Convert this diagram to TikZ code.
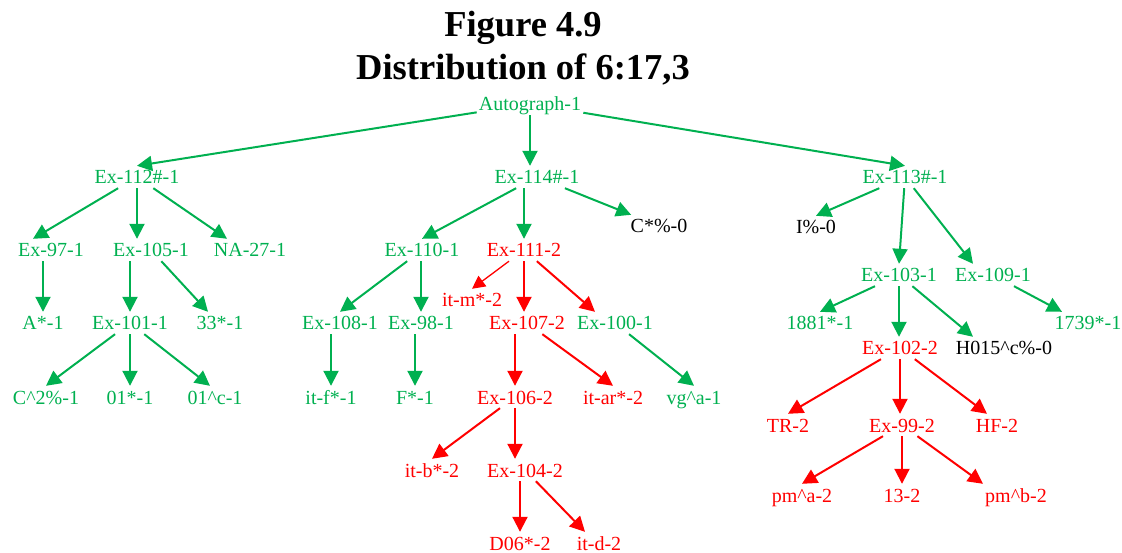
\documentclass[tikz,border=0pt]{standalone}
\usepackage{fontspec}
\setmainfont{Liberation Serif}
\usepackage{xcolor}
\usetikzlibrary{arrows.meta}
\definecolor{exgreen}{HTML}{00B050}
\definecolor{exred}{HTML}{FF0000}

\begin{document}
\begin{tikzpicture}[x=1pt, y=-1pt,
  every node/.style={font=\fontsize{20}{24}\selectfont, inner sep=2pt, text height=16pt, text depth=2pt},
  gn/.style={text=exgreen}, rn/.style={text=exred}, kn/.style={text=black},
  ga/.style={draw=exgreen, line width=2pt, -{Triangle[length=15pt,width=15pt]}},
  ra/.style={draw=exred, line width=2pt, -{Triangle[length=15pt,width=15pt]}},
  thinra/.style={draw=exred, line width=1.3pt, -{Triangle[length=13pt,width=13pt]}},
  titletext/.style={font=\fontsize{36.5}{44}\selectfont\bfseries, anchor=base, text height=, text depth=}]
  \useasboundingbox (0,0) rectangle (1122,553);
  % Title
  \node[titletext] (title1) at (523,37) {Figure 4.9};
  \node[titletext] (title2) at (523,80) {Distribution of 6:17,3};
  % Root and first level
  \node[gn] (auto)  at (530,104) {Autograph-1};
  \node[gn] (ex112) at (137,177) {Ex-112\#-1};
  \node[gn] (ex114) at (537,177) {Ex-114\#-1};
  \node[gn] (ex113) at (905,177) {Ex-113\#-1};
  % Left branch
  \node[gn] (ex97)  at (51,250)  {Ex-97-1};
  \node[gn] (ex105) at (151,250) {Ex-105-1};
  \node[gn] (na27)  at (250,250) {NA-27-1};
  \node[gn] (as1)   at (43,323)  {A*-1};
  \node[gn] (ex101) at (130,323) {Ex-101-1};
  \node[gn] (t33)   at (220,323) {33*-1};
  \node[gn] (c2)    at (46,397)  {C\textasciicircum 2\%-1};
  \node[gn] (o1)    at (130,397) {01*-1};
  \node[gn] (o1c)   at (215,397) {01\textasciicircum c-1};
  % Middle branch
  \node[gn] (ex110) at (422,250) {Ex-110-1};
  \node[rn] (ex111) at (524,250) {Ex-111-2};
  \node[kn] (cpc0)  at (659,226) {C*\%-0};
  \node[rn] (itm)   at (472,300) {it-m*-2};
  \node[gn] (ex108) at (340,323) {Ex-108-1};
  \node[gn] (ex98)  at (421,323) {Ex-98-1};
  \node[rn] (ex107) at (527,323) {Ex-107-2};
  \node[gn] (ex100) at (615,323) {Ex-100-1};
  \node[gn] (itf)   at (331,397) {it-f*-1};
  \node[gn] (fs)    at (415,397) {F*-1};
  \node[rn] (ex106) at (515,397) {Ex-106-2};
  \node[rn] (itar)  at (613,397) {it-ar*-2};
  \node[gn] (vga)   at (694,397) {vg\textasciicircum a-1};
  \node[rn] (itb)   at (432,470) {it-b*-2};
  \node[rn] (ex104) at (525,470) {Ex-104-2};
  \node[rn] (d06)   at (520,543) {D06*-2};
  \node[rn] (itd)   at (599,543) {it-d-2};
  % Right branch
  \node[kn] (ip0)   at (816,227)  {I\%-0};
  \node[gn] (ex103) at (899,275)  {Ex-103-1};
  \node[gn] (ex109) at (993,275)  {Ex-109-1};
  \node[gn] (n1881) at (820,323)  {1881*-1};
  \node[gn] (n1739) at (1088,323) {1739*-1};
  \node[rn] (ex102) at (900,348)  {Ex-102-2};
  \node[kn] (h015)  at (1004,348) {H015\textasciicircum c\%-0};
  \node[rn] (tr)    at (788,425)  {TR-2};
  \node[rn] (ex99)  at (902,425)  {Ex-99-2};
  \node[rn] (hf)    at (997,425)  {HF-2};
  \node[rn] (pma)   at (802,495)  {pm\textasciicircum a-2};
  \node[rn] (t13)   at (902,495)  {13-2};
  \node[rn] (pmb)   at (1016,495) {pm\textasciicircum b-2};
  % Edges from the root
  \draw[ga] (auto) -- (ex112.north);
  \draw[ga] (auto) -- (auto |- ex114.north);
  \draw[ga] (auto) -- (ex113.north);
  % Edges of the left branch
  \draw[ga] (ex112) -- ([xshift=-18pt]ex97.north);
  \draw[ga] (ex112) -- (ex112 |- ex105.north);
  \draw[ga] (ex112) -- ([xshift=-23pt]na27.north);
  \draw[ga] (as1.north |- ex97.south) -- (as1.north);
  \draw[ga] (ex101.north |- ex105.south) -- (ex101.north);
  \draw[ga] (ex105) -- ([xshift=-12pt]t33.north);
  \draw[ga] (ex101) -- (c2.north);
  \draw[ga] (ex101) -- (ex101 |- o1.north);
  \draw[ga] (ex101) -- ([xshift=-5pt]o1c.north);
  % Edges of the middle branch
  \draw[ga] (ex114) -- (ex110.north);
  \draw[ga] (ex111.north |- ex114.south) -- (ex111.north);
  \draw[ga] (ex114) -- (cpc0);
  \draw[ga] (ex110) -- (ex108.north);
  \draw[ga] (ex98.north |- ex110.south) -- (ex98.north);
  \draw[ga] (itf.north |- ex108.south) -- (itf.north);
  \draw[ga] (fs.north |- ex98.south) -- (fs.north);
  \draw[thinra] (ex111) -- (itm.north);
  \draw[ra] (ex111) -- (ex111 |- ex107.north);
  \draw[ra] (ex111) -- ([xshift=-20pt]ex100.north);
  \draw[ga] (ex100) -- (vga.north);
  \draw[ra] (ex106.north |- ex107.south) -- (ex106.north);
  \draw[ra] (ex107) -- (itar.north);
  \draw[ra] (ex106) -- (itb.north);
  \draw[ra] (ex106) -- (ex106 |- ex104.north);
  \draw[ra] (d06.north |- ex104.south) -- (d06.north);
  \draw[ra] (ex104) -- ([xshift=-14pt]itd.north);
  % Edges of the right branch
  \draw[ga] (ex113) -- (ip0.north);
  \draw[ga] (ex113) -- (ex103.north);
  \draw[ga] (ex113) -- ([xshift=-20pt]ex109.north);
  \draw[ga] (ex103) -- (n1881.north);
  \draw[ga] (ex103) -- (ex103 |- ex102.north);
  \draw[ga] (ex103) -- ([xshift=-31pt]h015.north);
  \draw[ga] (ex109) -- ([xshift=-26pt]n1739.north);
  \draw[ra] (ex102) -- (tr.north);
  \draw[ra] (ex102) -- (ex102 |- ex99.north);
  \draw[ra] (ex102) -- ([xshift=-10pt]hf.north);
  \draw[ra] (ex99) -- (pma.north);
  \draw[ra] (ex99) -- (ex99 |- t13.north);
  \draw[ra] (ex99) -- ([xshift=-33pt]pmb.north);
\end{tikzpicture}
\end{document}
